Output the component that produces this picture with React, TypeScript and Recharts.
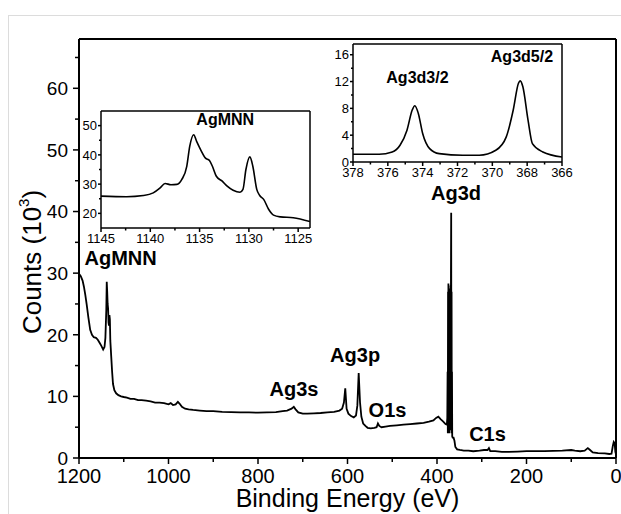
import { LineChart, Line, XAxis, YAxis, ReferenceLine, ReferenceDot } from 'recharts';

const FONT = '"Liberation Sans", Arial, sans-serif';

// XPS survey spectrum (binding energy in eV, counts in 10^3)
const surveyBE = [
  1200, 1196, 1192, 1189, 1186, 1183, 1179, 1175, 1171, 1167, 1162, 1158, 1154, 1150, 1146, 1143, 1141, 1139, 1138,
  1137, 1136, 1135, 1134, 1133, 1132, 1131, 1130, 1129, 1128, 1126, 1124, 1121, 1117, 1112, 1106, 1100, 1093, 1085,
  1077, 1068, 1060, 1050, 1040, 1030, 1020, 1010, 1000, 995, 990, 984, 979, 975, 970, 963, 955, 945, 930, 915, 900,
  880, 860, 840, 820, 800, 780, 760, 745, 735, 725, 720, 716, 710, 700, 690, 675, 660, 645, 630, 618, 612, 608, 605,
  602, 598, 592, 586, 581, 578, 575, 572, 569, 565, 560, 555, 548, 540, 535, 532, 529, 524, 515, 505, 490, 475, 460,
  445, 430, 418, 408, 402, 397, 392, 386, 381, 378, 377, 376.3, 375.8, 375.3, 374.8, 374.5, 374.1, 373.7, 373.2,
  372.7, 372.2, 371.7, 371.2, 370.7, 370.2, 369.7, 369.2, 368.8, 368.3, 367.9, 367.4, 367, 366.5,
  366, 365, 363, 361, 359, 355, 349, 340, 330, 319, 305, 295, 287, 284, 281, 270, 255, 240, 220, 200, 180, 160, 140,
  120, 100, 92, 80, 70, 63, 58, 52, 40, 25, 15, 10, 7, 5, 3, 1.5, 0,
];
const surveyCounts = [
  29.9, 29.5, 28.8, 27.8, 26.5, 25.0, 22.8, 20.8, 20.0, 19.6, 19.5, 19.2, 18.7, 18.2, 17.6, 18.0, 19.5, 24.0, 28.6,
  27.0, 25.0, 24.3, 22.0, 21.5, 23.2, 22.5, 19.0, 17.8, 16.5, 14.0, 12.0, 11.0, 10.5, 10.2, 10.0, 9.9, 9.8, 9.6,
  9.6, 9.4, 9.4, 9.3, 9.2, 9.0, 9.0, 8.9, 8.7, 8.9, 8.6, 8.7, 9.1, 8.8, 8.3, 8.0, 7.9, 7.8, 7.7, 7.6, 7.6,
  7.5, 7.45, 7.4, 7.4, 7.35, 7.4, 7.45, 7.6, 7.7, 8.0, 8.3, 7.9, 7.4, 7.2, 7.2, 7.25, 7.3, 7.4, 7.5, 7.7, 8.0, 9.0, 11.3,
  8.0, 7.2, 6.8, 6.6, 6.9, 8.5, 13.8, 9.0, 6.7, 5.6, 5.2, 4.9, 4.8, 4.9, 5.0, 5.6, 5.2, 5.0, 5.1, 5.2, 5.3, 5.4, 5.5,
  5.6, 5.7, 5.9, 6.1, 6.5, 6.7, 6.3, 5.9, 5.5, 5.4, 6.5, 14.0, 4.0, 27.0, 5.0, 28.3, 4.5, 27.5, 5.0,
  27.0, 4.0, 26.5, 5.0, 27.0, 4.5, 28.0, 6.0, 30.0, 39.8, 8.0, 27.0, 4.0, 14.0,
  3.5, 3.3, 3.3, 2.8, 1.8, 1.4, 1.3, 1.2, 1.2, 1.1, 1.2, 1.3, 1.3, 1.6, 1.1, 1.1, 1.0, 1.0, 1.05, 1.1, 1.1, 1.1, 1.15,
  1.2, 1.3, 1.2, 1.1, 1.2, 1.6, 1.3, 0.9, 0.8, 0.75, 0.65, 0.7, 2.0, 2.6, 2.4, 1.0, 0.6,
];

// AgMNN inset
const mnnBE = [
  1145, 1142.4, 1140.7, 1139.7, 1139, 1138.5, 1137.9, 1137.3, 1136.8, 1136.3, 1136, 1135.6, 1135.3, 1134.9, 1134.4,
  1134, 1133.7, 1133.3, 1132.7, 1132.2, 1131.6, 1130.9, 1130.6, 1130.3, 1129.9, 1129.6, 1129.2, 1128.9, 1128.5, 1128,
  1127.5, 1126.8, 1125.5, 1123.8,
];
const mnnCounts = [
  25.9, 25.7, 26.1, 27.0, 28.7, 30.2, 29.8, 29.9, 31.6, 36.1, 42.9, 46.9, 44.6, 41.8, 38.9,
  38.1, 36.1, 32.7, 31.0, 29.3, 27.9, 27.2, 28.2, 35.0, 39.3, 36.1, 28.2, 26.1, 24.8, 21.4,
  19.4, 18.8, 18.5, 17.2,
];

// Ag3d inset
const d3BE = [
  378, 376.5, 375.75, 375.3, 374.9, 374.6, 374.45, 374.25, 374, 373.6, 373.05, 371.7, 370.75, 369.8, 369.2, 368.8,
  368.5, 368.4, 368.25, 367.95, 367.7, 367.1, 366,
];
const d3Counts = [
  1.15, 1.15, 1.5, 2.5, 4.75, 7.75, 8.4, 7.25, 4.25, 2.0, 1.25, 1.0, 1.0, 1.75, 3.75, 7.75,
  11.75, 12.1, 11.25, 6.25, 2.75, 1.5, 0.75,
];

// tick values
const mainXTicks = [1200, 1100, 1000, 900, 800, 700, 600, 500, 400, 300, 200, 100, 0];
const mainXLabels = [1200, 1000, 800, 600, 400, 200, 0];
const mainYTicks = [0, 5, 10, 15, 20, 25, 30, 35, 40, 45, 50, 55, 60, 65];
const mainYLabels = [0, 10, 20, 30, 40, 50, 60];
const mnnXTicks = [1145, 1142.5, 1140, 1137.5, 1135, 1132.5, 1130, 1127.5, 1125];
const mnnXLabels = [1145, 1140, 1135, 1130, 1125];
const mnnYTicks = [20, 25, 30, 35, 40, 45, 50];
const mnnYLabels = [20, 30, 40, 50];
const d3XTicks = [378, 377, 376, 375, 374, 373, 372, 371, 370, 369, 368, 367, 366];
const d3XLabels = [378, 376, 374, 372, 370, 368, 366];
const d3YTicks = [0, 2, 4, 6, 8, 10, 12, 14, 16];
const d3YLabels = [0, 4, 8, 12, 16];

// peak annotations (anchor at label centre / baseline, in data units)
const mainPeakNames = ['AgMNN', 'Ag3d', 'Ag3p', 'Ag3s', 'O1s', 'C1s'];
const mainPeakBE = [1107, 357.6, 583, 719.6, 510.6, 287.2];
const mainPeakY = [31.4, 41.9, 15.5, 10.1, 6.7, 2.8];
const d3PeakNames = ['Ag3d3/2', 'Ag3d5/2'];
const d3PeakBE = [374.3, 368.3];
const d3PeakY = [11.8, 14.95];

const surveyData = surveyBE.map((be, i) => ({ be, counts: surveyCounts[i] }));
const mnnData = mnnBE.map((be, i) => ({ be, counts: mnnCounts[i] }));
const d3Data = d3BE.map((be, i) => ({ be, counts: d3Counts[i] }));

const makeBottomTick = (labels: number[], major: number, minor: number, fontSize: number, gap: number) =>
  (props: any) => {
    const { x, y, payload } = props;
    const isMajor = labels.includes(payload.value);
    return (
      <g>
        <line x1={x} x2={x} y1={y} y2={y + (isMajor ? major : minor)} stroke="#000" strokeWidth={1.5} />
        {isMajor && (
          <text x={x} y={y + gap} textAnchor="middle" fontSize={fontSize} fontFamily={FONT} fill="#000">
            {payload.value}
          </text>
        )}
      </g>
    );
  };

const makeLeftTick = (labels: number[], major: number, minor: number, fontSize: number, gap: number) =>
  (props: any) => {
    const { x, y, payload } = props;
    const isMajor = labels.includes(payload.value);
    return (
      <g>
        <line x1={x} x2={x - (isMajor ? major : minor)} y1={y} y2={y} stroke="#000" strokeWidth={1.5} />
        {isMajor && (
          <text x={x - gap} y={y} dy="0.36em" textAnchor="end" fontSize={fontSize} fontFamily={FONT} fill="#000">
            {payload.value}
          </text>
        )}
      </g>
    );
  };

const peakLabel = (text: string, size: number) => (props: any) => {
  const { viewBox } = props;
  const cx = viewBox.x + (viewBox.width || 0) / 2;
  const cy = viewBox.y + (viewBox.height || 0) / 2;
  return (
    <text x={cx} y={cy} textAnchor="middle" fontSize={size} fontWeight="bold" fontFamily={FONT} fill="#000">
      {text}
    </text>
  );
};

function Inset({ left, top, width, height, margin, yWidth, data, xDomain, yDomain, xTicks, xLabels, yTicks, yLabels, children }: any) {
  return (
    <div style={{ position: 'absolute', left, top }}>
      <LineChart width={width} height={height} data={data} margin={margin}>
        <XAxis
          dataKey="be"
          type="number"
          domain={xDomain}
          reversed
          ticks={xTicks}
          interval={0}
          height={22}
          tickSize={0}
          tickMargin={0}
          tickLine={false}
          axisLine={{ stroke: '#000', strokeWidth: 1.5 }}
          tick={makeBottomTick(xLabels, 4, 2.5, 13, 15)}
          allowDataOverflow
        />
        <YAxis
          type="number"
          domain={yDomain}
          ticks={yTicks}
          interval={0}
          width={yWidth}
          tickSize={0}
          tickMargin={0}
          tickLine={false}
          axisLine={{ stroke: '#000', strokeWidth: 1.5 }}
          tick={makeLeftTick(yLabels, 3, 2, 13, 4)}
          allowDataOverflow
        />
        <ReferenceLine y={yDomain[1]} stroke="#000" strokeWidth={1.5} />
        <ReferenceLine x={xDomain[0]} stroke="#000" strokeWidth={1.5} />
        <Line type="monotone" dataKey="counts" stroke="#000" strokeWidth={1.6} dot={false} isAnimationActive={false} />
        {children}
      </LineChart>
    </div>
  );
}

export default function App() {
  return (
    <div style={{ position: 'absolute', left: 0, top: 0, width: 621, height: 514, background: '#fff', fontFamily: FONT, overflow: 'hidden' }}>
      <div
        style={{
          position: 'absolute',
          left: 8,
          top: 15,
          width: 613,
          height: 499,
          borderTop: '1px solid #dcdcdc',
          borderLeft: '1px solid #dcdcdc',
          boxSizing: 'border-box',
        }}
      />
      <div style={{ position: 'absolute', left: 0, top: 0 }}>
        <LineChart width={621} height={514} data={surveyData} margin={{ top: 39, right: 5, left: 0, bottom: 0 }}>
          <XAxis
            dataKey="be"
            type="number"
            domain={[0, 1200]}
            reversed
            ticks={mainXTicks}
            interval={0}
            height={56}
            tickSize={0}
            tickMargin={0}
            tickLine={false}
            axisLine={{ stroke: '#000', strokeWidth: 2 }}
            tick={makeBottomTick(mainXLabels, 6, 4, 20, 25)}
            label={(p: any) => (
              <text
                x={p.viewBox.x + p.viewBox.width / 2}
                y={p.viewBox.y + 49}
                textAnchor="middle"
                fontSize={25}
                fontFamily={FONT}
                fill="#000"
              >
                Binding Energy (eV)
              </text>
            )}
          />
          <YAxis
            type="number"
            domain={[0, 68]}
            ticks={mainYTicks}
            interval={0}
            width={79}
            tickSize={0}
            tickMargin={0}
            tickLine={false}
            axisLine={{ stroke: '#000', strokeWidth: 2 }}
            tick={makeLeftTick(mainYLabels, 6, 4, 19, 11)}
            label={() => (
              <text
                x={32}
                y={262}
                transform="rotate(-90 32 262)"
                textAnchor="middle"
                dominantBaseline="central"
                fontSize={26}
                fontFamily={FONT}
                fill="#000"
              >
                Counts (10
                <tspan dy={-9} fontSize={15}>3</tspan>
                <tspan dy={9}>)</tspan>
              </text>
            )}
          />
          <ReferenceLine y={68} stroke="#000" strokeWidth={2} />
          <ReferenceLine x={0} stroke="#000" strokeWidth={2} />
          <Line type="linear" dataKey="counts" stroke="#000" strokeWidth={1.8} dot={false} isAnimationActive={false} />
          {mainPeakNames.map((name, i) => (
            <ReferenceDot
              key={name}
              x={mainPeakBE[i]}
              y={mainPeakY[i]}
              r={0}
              fill="none"
              stroke="none"
              label={peakLabel(name, 20)}
            />
          ))}
        </LineChart>
      </div>

      <Inset
        left={60}
        top={100}
        width={260}
        height={150}
        margin={{ top: 11, right: 10, left: 0, bottom: 0 }}
        yWidth={41}
        data={mnnData}
        xDomain={[1123.8, 1145]}
        yDomain={[15, 55]}
        xTicks={mnnXTicks}
        xLabels={mnnXLabels}
        yTicks={mnnYTicks}
        yLabels={mnnYLabels}
      >
        <ReferenceDot x={1132.4} y={50.1} r={0} fill="none" stroke="none" label={peakLabel('AgMNN', 16)} />
      </Inset>

      <Inset
        left={320}
        top={34}
        width={262}
        height={150}
        margin={{ top: 10, right: 20, left: 0, bottom: 0 }}
        yWidth={33}
        data={d3Data}
        xDomain={[366, 378]}
        yDomain={[0, 17.6]}
        xTicks={d3XTicks}
        xLabels={d3XLabels}
        yTicks={d3YTicks}
        yLabels={d3YLabels}
      >
        {d3PeakNames.map((name, i) => (
          <ReferenceDot
            key={name}
            x={d3PeakBE[i]}
            y={d3PeakY[i]}
            r={0}
            fill="none"
            stroke="none"
            label={peakLabel(name, 16)}
          />
        ))}
      </Inset>
    </div>
  );
}
